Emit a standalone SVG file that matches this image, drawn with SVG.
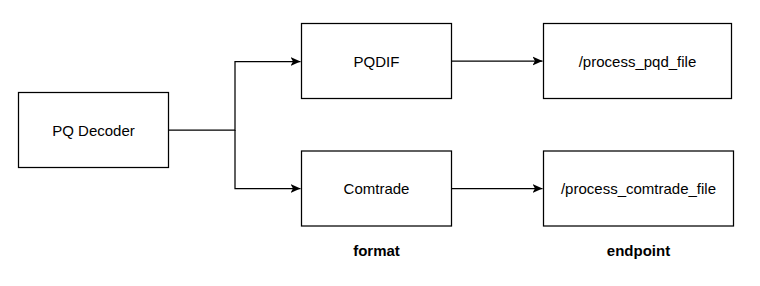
<svg xmlns="http://www.w3.org/2000/svg" width="760" height="286" viewBox="0 0 760 286">
  <style>
    .box { fill: #ffffff; stroke: #000000; stroke-width: 1.25; }
    .lbl { font-family: "Liberation Sans", Arial, sans-serif; font-size: 15px; fill: #000000; text-anchor: middle; dominant-baseline: central; }
    .cap { font-family: "Liberation Sans", Arial, sans-serif; font-size: 15px; font-weight: bold; fill: #000000; text-anchor: middle; dominant-baseline: central; }
    .edge { fill: none; stroke: #000000; stroke-width: 1.25; }
  </style>
  <defs>
    <marker id="arrow" viewBox="0 0 10 10" refX="10" refY="5" markerWidth="10" markerHeight="10" markerUnits="userSpaceOnUse" orient="auto">
      <path d="M0,0.5 L10,5 L0,9.5 L2.5,5 Z" fill="#000000"/>
    </marker>
  </defs>

  <rect width="760" height="286" fill="#ffffff"/>

  <g id="connectors">
    <path class="edge" d="M168.5,130 H235 V61.5 H300.5" marker-end="url(#arrow)"/>
    <path class="edge" d="M235,130 V188.5 H300.5" marker-end="url(#arrow)"/>
    <path class="edge" d="M451.5,61 H542.5" marker-end="url(#arrow)"/>
    <path class="edge" d="M451.5,188.5 H542.5" marker-end="url(#arrow)"/>
  </g>

  <g id="pq-decoder">
    <rect class="box" x="18.5" y="92.5" width="150" height="75"/>
    <text class="lbl" x="93.5" y="130">PQ Decoder</text>
  </g>

  <g id="pqdif">
    <rect class="box" x="301.5" y="23.5" width="150" height="75"/>
    <text class="lbl" x="376.5" y="61">PQDIF</text>
  </g>

  <g id="comtrade">
    <rect class="box" x="301.5" y="151" width="150" height="75"/>
    <text class="lbl" x="376.5" y="188.5">Comtrade</text>
  </g>

  <g id="process-pqd">
    <rect class="box" x="543.5" y="23.5" width="188" height="75"/>
    <text class="lbl" x="637.5" y="61">/process_pqd_file</text>
  </g>

  <g id="process-comtrade">
    <rect class="box" x="543.5" y="151" width="190" height="75"/>
    <text class="lbl" x="638.5" y="188.5">/process_comtrade_file</text>
  </g>

  <g id="captions">
    <text class="cap" x="376.5" y="250.5">format</text>
    <text class="cap" x="638.5" y="250.5">endpoint</text>
  </g>
</svg>
